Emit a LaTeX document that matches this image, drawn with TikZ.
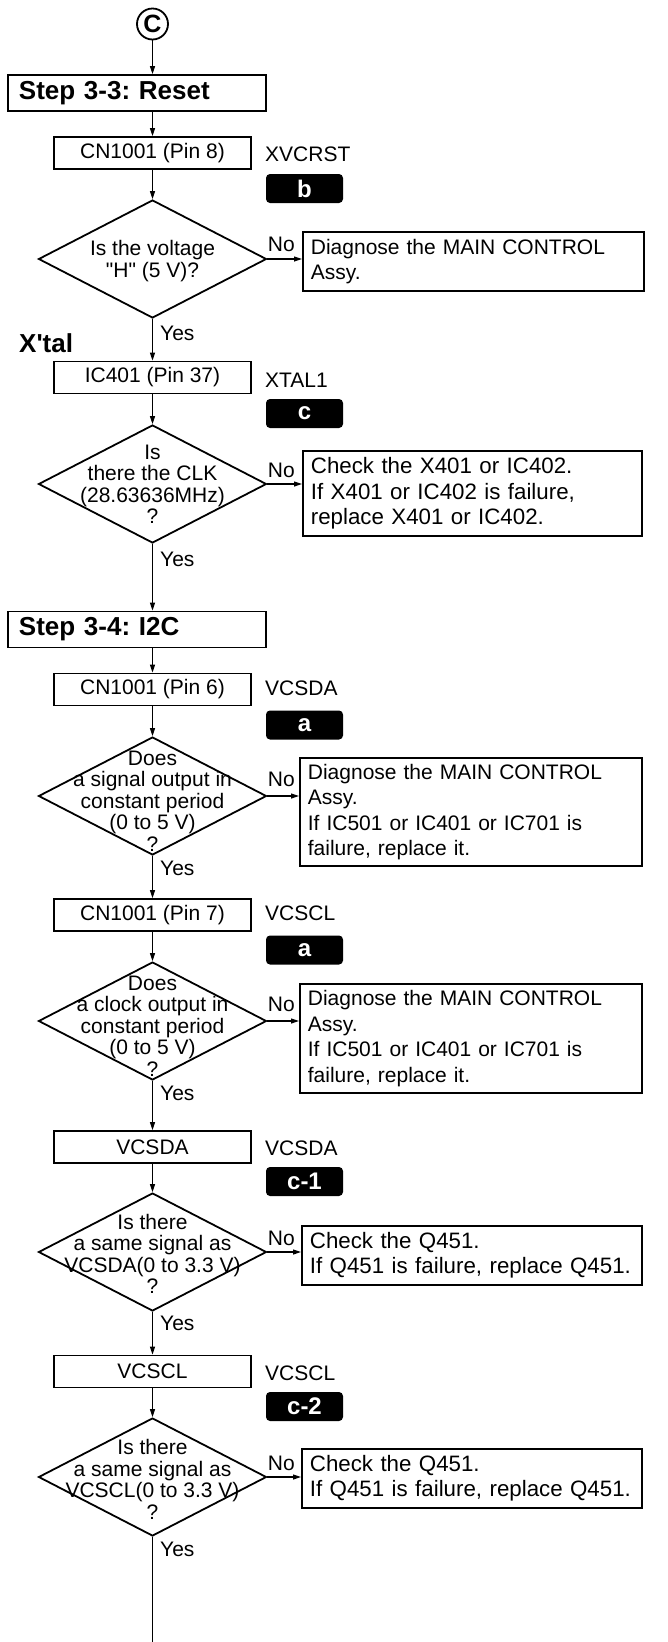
\documentclass[tikz,border=0pt]{standalone}
\usepackage{fontspec}
\setmainfont{Liberation Sans}
\usetikzlibrary{arrows.meta,shapes.geometric}
\frenchspacing
\begin{document}
\frenchspacing
\begin{tikzpicture}[x=1pt,y=-1pt,
  txt/.style={font=\fontsize{21}{25.5}\selectfont, inner sep=0pt},
  btxt/.style={font=\fontsize{26}{30}\selectfont\bfseries, inner sep=0pt},
  mbox/.style={draw, line width=1.8pt, minimum width=197pt, minimum height=32pt, inner sep=0pt, font=\fontsize{21}{25.5}\selectfont},
  stepbox/.style={draw, line width=1.8pt, minimum height=36pt, text width=236pt, inner xsep=11pt, inner ysep=0pt, align=left, font=\fontsize{26}{30}\selectfont\bfseries},
  dia/.style={draw, diamond, line width=1.8pt, minimum width=228pt, minimum height=118pt, inner sep=0pt},
  dtxt/.style={align=center, inner sep=0pt, font=\fontsize{21}{21.5}\selectfont},
  rbox/.style={draw, line width=1.8pt, anchor=north west, align=left, inner xsep=8pt, inner ysep=0pt, font=\fontsize{21}{25.5}\selectfont},
  rboxl/.style={rbox, font=\fontsize{22.3}{25.5}\selectfont},
  badge/.style={fill=black, rounded corners=4pt, minimum width=77pt, minimum height=29pt, inner sep=0pt, text=white, font=\fontsize{24}{24}\selectfont\bfseries},
  arr/.style={line width=1.1pt, -{Triangle[length=8pt,width=5pt]}},
  ln/.style={line width=1.1pt},
]
\fill[white] (0,0) rectangle (667,1642);
\useasboundingbox (0,0) rectangle (667,1642);

% connector C
\node[draw, circle, line width=1.8pt, minimum size=31pt, inner sep=0pt, font=\fontsize{25}{25}\selectfont\bfseries] (cc) at (152.5,24) {C};

% Step 3-3
\node[stepbox] (s1) at (137,93) {Step 3-3: Reset};
\node[mbox] (cn8) at (152.5,153) {CN1001 (Pin 8)};
\node[txt, anchor=west] (l1) at (265,154) {XVCRST};
\node[badge] (b1) at (304.5,188.5) {b};
\node[dia] (d1) at (152.5,259) {};
\node[dtxt] (t1) at (152.5,261) {Is the voltage\\\textquotedbl H\textquotedbl\ (5 V)?};
\node[rbox, text width=325pt, minimum height=59pt] (r1) at (302,231) {Diagnose the MAIN CONTROL\\Assy.};

% X'tal
\node[btxt, anchor=west] (xt) at (19,343) {X\textquotesingle tal};
\node[mbox] (ic) at (152.5,377.5) {IC401 (Pin 37)};
\node[txt, anchor=west] (l2) at (265,380) {XTAL1};
\node[badge] (b2) at (304.5,413.5) {c};
\node[dia] (d2) at (152.5,484) {};
\node[dtxt] (t2) at (152.5,484.5) {Is\\there the CLK\\(28.63636MHz)\\?};
\node[rboxl, text width=323pt, minimum height=85pt] (r2) at (302,450) {Check the X401 or IC402.\\If X401 or IC402 is failure,\\replace X401 or IC402.};

% Step 3-4
\node[stepbox] (s2) at (137,629.5) {Step 3-4: I2C};
\node[mbox] (cn6) at (152.5,689.5) {CN1001 (Pin 6)};
\node[txt, anchor=west] (l3) at (265,688) {VCSDA};
\node[badge] (b3) at (304.5,725) {a};
\node[dia] (d3) at (152.5,796) {};
\node[dtxt] (t3) at (152.5,801) {Does\\a signal output in\\constant period\\(0 to 5 V)\\?};
\node[rbox, text width=326pt, minimum height=108pt] (r3) at (299,757) {Diagnose the MAIN CONTROL\\Assy.\\If IC501 or IC401 or IC701 is\\failure, replace it.};

\node[mbox] (cn7) at (152.5,915) {CN1001 (Pin 7)};
\node[txt, anchor=west] (l4) at (265,913) {VCSCL};
\node[badge] (b4) at (304.5,950) {a};
\node[dia] (d4) at (152.5,1021) {};
\node[dtxt] (t4) at (152.5,1026) {Does\\a clock output in\\constant period\\(0 to 5 V)\\?};
\node[rbox, text width=326pt, minimum height=109pt] (r4) at (299,983) {Diagnose the MAIN CONTROL\\Assy.\\If IC501 or IC401 or IC701 is\\failure, replace it.};

\node[mbox] (sda) at (152.5,1147) {VCSDA};
\node[txt, anchor=west] (l5) at (265,1148) {VCSDA};
\node[badge] (b5) at (304.5,1181.5) {c-1};
\node[dia] (d5) at (152.5,1252) {};
\node[dtxt] (t5) at (152.5,1254) {Is there\\a same signal as\\VCSDA(0 to 3.3 V)\\?};
\node[rboxl, text width=324pt, minimum height=59pt] (r5) at (301,1225) {Check the Q451.\\\mbox{If Q451 is failure, replace Q451.}};

\node[mbox] (scl) at (152.5,1371.5) {VCSCL};
\node[txt, anchor=west] (l6) at (265,1373) {VCSCL};
\node[badge] (b6) at (304.5,1406.5) {c-2};
\node[dia] (d6) at (152.5,1477) {};
\node[dtxt] (t6) at (152.5,1479.5) {Is there\\a same signal as\\VCSCL(0 to 3.3 V)\\?};
\node[rboxl, text width=324pt, minimum height=59pt] (r6) at (301,1448) {Check the Q451.\\\mbox{If Q451 is failure, replace Q451.}};

\coordinate (bot) at (152.5,1642);

% vertical connectors
\draw[arr] (cc.south) -- (cc.south |- s1.north);
\draw[arr] (s1.south -| cn8.north) -- (cn8.north);
\draw[arr] (cn8.south) -- (d1.north);
\draw[arr] (d1.south) -- (ic.north);
\draw[arr] (ic.south) -- (d2.north);
\draw[arr] (d2.south) -- (d2.south |- s2.north);
\draw[arr] (s2.south -| cn6.north) -- (cn6.north);
\draw[arr] (cn6.south) -- (d3.north);
\draw[arr] (d3.south) -- (cn7.north);
\draw[arr] (cn7.south) -- (d4.north);
\draw[arr] (d4.south) -- (sda.north);
\draw[arr] (sda.south) -- (d5.north);
\draw[arr] (d5.south) -- (scl.north);
\draw[arr] (scl.south) -- (d6.north);
\draw[ln] (d6.south) -- (bot);

% No connectors
\draw[arr] (d1.east) -- (d1.east -| r1.west);
\draw[arr] (d2.east) -- (d2.east -| r2.west);
\draw[arr] (d3.east) -- (d3.east -| r3.west);
\draw[arr] (d4.east) -- (d4.east -| r4.west);
\draw[arr] (d5.east) -- (d5.east -| r5.west);
\draw[arr] (d6.east) -- (d6.east -| r6.west);

% No labels
\node[txt, anchor=base east] (n1) at (295,251.5) {No};
\node[txt, anchor=base east] (n2) at (295,477.5) {No};
\node[txt, anchor=base east] (n3) at (295,786.5) {No};
\node[txt, anchor=base east] (n4) at (295,1011.5) {No};
\node[txt, anchor=base east] (n5) at (295,1245.5) {No};
\node[txt, anchor=base east] (n6) at (295,1470.5) {No};

% Yes labels
\node[txt, anchor=base west] (y1) at (160,340.5) {Yes};
\node[txt, anchor=base west] (y2) at (160,566.5) {Yes};
\node[txt, anchor=base west] (y3) at (160,875.5) {Yes};
\node[txt, anchor=base west] (y4) at (160,1100.5) {Yes};
\node[txt, anchor=base west] (y5) at (160,1330.5) {Yes};
\node[txt, anchor=base west] (y6) at (160,1556.5) {Yes};
\end{tikzpicture}
\end{document}
